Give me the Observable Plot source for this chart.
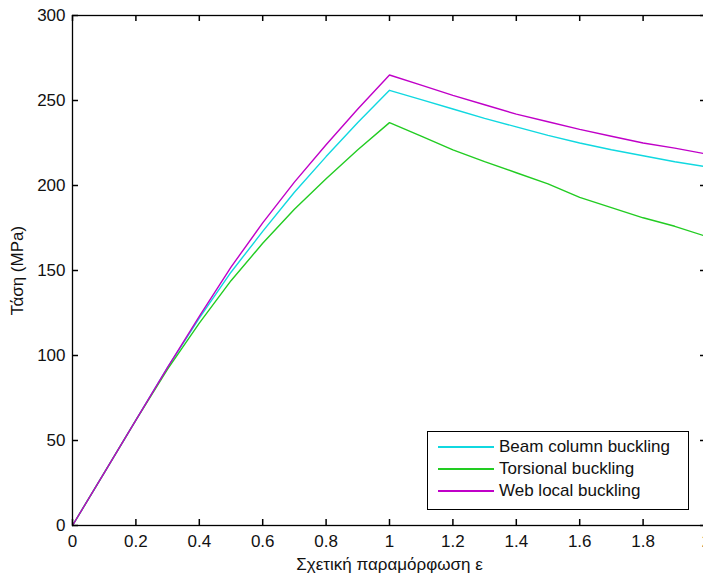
<!DOCTYPE html>
<html>
<head>
<meta charset="utf-8">
<script src="https://cdn.jsdelivr.net/npm/d3@7"></script>
<script src="https://cdn.jsdelivr.net/npm/@observablehq/plot@0.6"></script>
<style>
  html, body { margin: 0; padding: 0; background: #fff; overflow: hidden; }
  #wrap { position: relative; width: 703px; height: 574px; }
  #legend { position: absolute; left: 427px; top: 431px; width: 260px; height: 77px;
    border: 1px solid #000; background: #fff; font-family: "Liberation Sans", Arial, sans-serif; font-size: 17px; color: #111; }
  .row { position: absolute; left: 0; height: 22px; display: flex; align-items: center; }
  .sw { width: 56px; height: 2px; margin-left: 10px; margin-right: 5px; }
</style>
</head>
<body>
<div id="wrap"></div>
<script>
const strain = [0, 0.1, 0.2, 0.3, 0.4, 0.5, 0.6, 0.7, 0.8, 0.9, 1.0, 1.1, 1.2, 1.3, 1.4, 1.5, 1.6, 1.7, 1.8, 1.9, 2.0];
const beamColumn = [0, 31, 62, 93, 122, 149, 173, 196, 217, 237, 256, 250.5, 245, 239.5, 234.5, 229.5, 225, 221, 217.5, 214, 211];
const torsional  = [0, 31, 62, 92, 119, 144, 166, 186, 204, 221, 237, 229, 221, 214, 207.5, 201, 193, 187, 181, 176, 170];
const webLocal   = [0, 31, 62, 93, 123, 152, 178, 202, 224, 245, 265, 259, 253, 247.5, 242, 237.5, 233, 229, 225, 222, 218.5];
const seriesNames = ["Beam column buckling", "Torsional buckling", "Web local buckling"];
const seriesColors = ["#10d8e0", "#22cc22", "#c000c8"];
const xTicks = [0, 0.2, 0.4, 0.6, 0.8, 1, 1.2, 1.4, 1.6, 1.8, 2];
const yTicks = [0, 50, 100, 150, 200, 250, 300];
const xLabel = "Σχετική παραμόρφωση ε";
const yLabel = "Τάση (MPa)";

const values = [beamColumn, torsional, webLocal];
const data = [];
seriesNames.forEach((name, k) => strain.forEach((x, i) => data.push({series: name, x, y: values[k][i]})));

const W = 703, H = 574, mL = 72, mT = 15, mB = 49, mR = -3;
const frameW = W - mL - mR, frameH = H - mT - mB, tk = 6;

const chart = Plot.plot({
  width: W,
  height: H,
  marginLeft: mL,
  marginTop: mT,
  marginBottom: mB,
  marginRight: mR,
  style: {fontFamily: "'Liberation Sans', Arial, sans-serif", fontSize: "17px", background: "#fff", color: "#111"},
  x: {domain: [0, 2]},
  y: {domain: [0, 300]},
  color: {domain: seriesNames, range: seriesColors},
  marks: [
    Plot.line(data, {x: "x", y: "y", z: "series", stroke: "series", strokeWidth: 1.4}),
    // inward tick marks on all four sides
    Plot.ruleX(xTicks, {x: d => d, insetTop: frameH - tk, stroke: "#000", strokeWidth: 1.5}),
    Plot.ruleX(xTicks, {x: d => d, insetBottom: frameH - tk, stroke: "#000", strokeWidth: 1.5}),
    Plot.ruleY(yTicks, {y: d => d, insetRight: frameW - tk, stroke: "#000", strokeWidth: 1.5}),
    Plot.ruleY(yTicks, {y: d => d, insetLeft: frameW - tk, stroke: "#000", strokeWidth: 1.5}),
    Plot.frame({stroke: "#000", strokeWidth: 1.3}),
    Plot.axisX({ticks: xTicks, tickSize: 0, tickPadding: 9, tickFormat: d => String(d), label: null}),
    Plot.axisX({ticks: [], tickSize: 0, label: xLabel, labelAnchor: "center", labelArrow: "none", labelOffset: 44, dx: -5}),
    Plot.axisY({ticks: yTicks, tickSize: 0, tickPadding: 7, tickFormat: d => String(d), label: null}),
    Plot.axisY({ticks: [], tickSize: 0, label: yLabel, labelAnchor: "center", labelArrow: "none", labelOffset: 62})
  ]
});
const wrap = document.getElementById("wrap");
wrap.appendChild(chart);

const legend = document.createElement("div");
legend.id = "legend";
seriesNames.forEach((name, k) => {
  const row = document.createElement("div");
  row.className = "row";
  row.style.top = (4 + k * 22) + "px";
  const sw = document.createElement("div");
  sw.className = "sw";
  sw.style.background = seriesColors[k];
  const t = document.createElement("span");
  t.textContent = name;
  row.appendChild(sw);
  row.appendChild(t);
  legend.appendChild(row);
});
wrap.appendChild(legend);
</script>
</body>
</html>
